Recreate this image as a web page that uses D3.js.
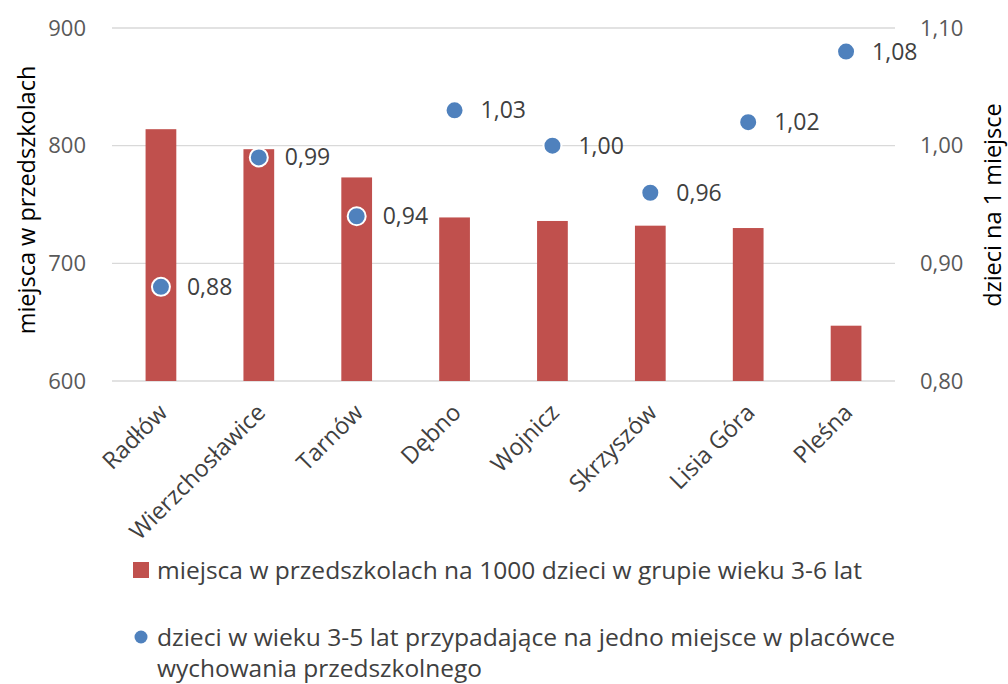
<!DOCTYPE html>
<html>
<head>
<meta charset="utf-8">
<script src="https://cdn.jsdelivr.net/npm/d3@7"></script>
<style>
  body { margin: 0; background: #fff; }
  svg { font-family: "Open Sans", sans-serif; }
</style>
</head>
<body>
<svg id="chart" width="1008" height="684"></svg>
<script>
// Gminy (municipalities)
const categories = ["Radłów", "Wierzchosławice", "Tarnów", "Dębno", "Wojnicz", "Skrzyszów", "Lisia Góra", "Pleśna"];
// places in preschools per 1000 children aged 3-6
const places = [814, 797, 773, 739, 736, 732, 730, 647];
// children aged 3-5 per one place
const childrenPerPlace = [0.88, 0.99, 0.94, 1.03, 1.00, 0.96, 1.02, 1.08];
const leftTicks = [600, 700, 800, 900];
const rightTicks = [0.80, 0.90, 1.00, 1.10];
const barSeriesName = "miejsca w przedszkolach na 1000 dzieci w grupie wieku 3-6 lat";
const dotSeriesName = ["dzieci w wieku 3-5 lat przypadające na jedno miejsce w placówce", "wychowania przedszkolnego"];

const svg = d3.select("#chart");
const plot = { left: 112, right: 895, top: 28, bottom: 381 };
const fmt = d => d.toFixed(2).replace(".", ",");

const x = d3.scaleBand().domain(categories).range([plot.left, plot.right]).paddingInner(0.686).paddingOuter(0.343);
const yL = d3.scaleLinear().domain([600, 900]).range([plot.bottom, plot.top]);
const yR = d3.scaleLinear().domain([0.80, 1.10]).range([plot.bottom, plot.top]);

// gridlines
svg.append("g").selectAll("line").data(leftTicks).join("line")
  .attr("x1", plot.left).attr("x2", plot.right)
  .attr("y1", d => yL(d)).attr("y2", d => yL(d))
  .attr("stroke", "#d9d9d9").attr("stroke-width", 1.3);

// left axis labels
const axL = svg.append("g").attr("transform", `translate(${plot.left},0)`)
  .call(d3.axisLeft(yL).tickValues(leftTicks).tickSize(0).tickPadding(26).tickFormat(d3.format("d")));
axL.select(".domain").remove();
axL.selectAll("text").attr("font-size", 22).attr("fill", "#595959").attr("font-family", "Open Sans");

// right axis labels
const axR = svg.append("g").attr("transform", `translate(${plot.right},0)`)
  .call(d3.axisRight(yR).tickValues(rightTicks).tickSize(0).tickPadding(25).tickFormat(fmt));
axR.select(".domain").remove();
axR.selectAll("text").attr("font-size", 22).attr("fill", "#595959").attr("font-family", "Open Sans");

// bars
svg.append("g").selectAll("rect").data(categories).join("rect")
  .attr("x", d => x(d)).attr("width", x.bandwidth())
  .attr("y", (d, i) => yL(places[i]))
  .attr("height", (d, i) => yL(600) - yL(places[i]))
  .attr("fill", "#c0504d");

// category labels
svg.append("g").selectAll("text").data(categories).join("text")
  .attr("transform", d => `translate(${x(d) + x.bandwidth() / 2 + 8},${plot.bottom + 33}) rotate(-45)`)
  .attr("text-anchor", "end")
  .attr("font-size", 23.5).attr("fill", "#404040")
  .text(d => d);

// dots
const cx = d => x(d) + x.bandwidth() / 2;
svg.append("g").selectAll("circle").data(categories).join("circle")
  .attr("cx", cx).attr("cy", (d, i) => yR(childrenPerPlace[i]))
  .attr("r", 9).attr("fill", "#4f81bd").attr("stroke", "#fff").attr("stroke-width", 2);

// value labels
svg.append("g").selectAll("text").data(categories).join("text")
  .attr("x", d => cx(d) + 26).attr("y", (d, i) => yR(childrenPerPlace[i]))
  .attr("dy", "0.35em")
  .attr("font-size", 23).attr("fill", "#404040")
  .text((d, i) => fmt(childrenPerPlace[i]));

// axis titles
svg.append("text")
  .attr("transform", `translate(35,200) rotate(-90)`)
  .attr("text-anchor", "middle").attr("font-size", 23.5).attr("fill", "#000")
  .text("miejsca w przedszkolach");
svg.append("text")
  .attr("transform", `translate(1001,205) rotate(-90)`)
  .attr("text-anchor", "middle").attr("font-size", 23.5).attr("fill", "#000")
  .text("dzieci na 1 miejsce");

// legend
const lg = svg.append("g");
lg.append("rect").attr("x", 133).attr("y", 562).attr("width", 16).attr("height", 16).attr("fill", "#c0504d");
lg.append("text").attr("x", 157).attr("y", 579).attr("font-size", 24).attr("fill", "#404040")
  .attr("textLength", 705).attr("lengthAdjust", "spacingAndGlyphs").text(barSeriesName);
lg.append("circle").attr("cx", 141).attr("cy", 637).attr("r", 6.5).attr("fill", "#4f81bd");
const l2Len = [738, 325];
lg.selectAll("text.l2").data(dotSeriesName).join("text").attr("class", "l2")
  .attr("x", 157).attr("y", (d, i) => 646 + i * 31)
  .attr("font-size", 24).attr("fill", "#404040")
  .attr("textLength", (d, i) => l2Len[i]).attr("lengthAdjust", "spacingAndGlyphs")
  .text(d => d);
</script>
</body>
</html>
